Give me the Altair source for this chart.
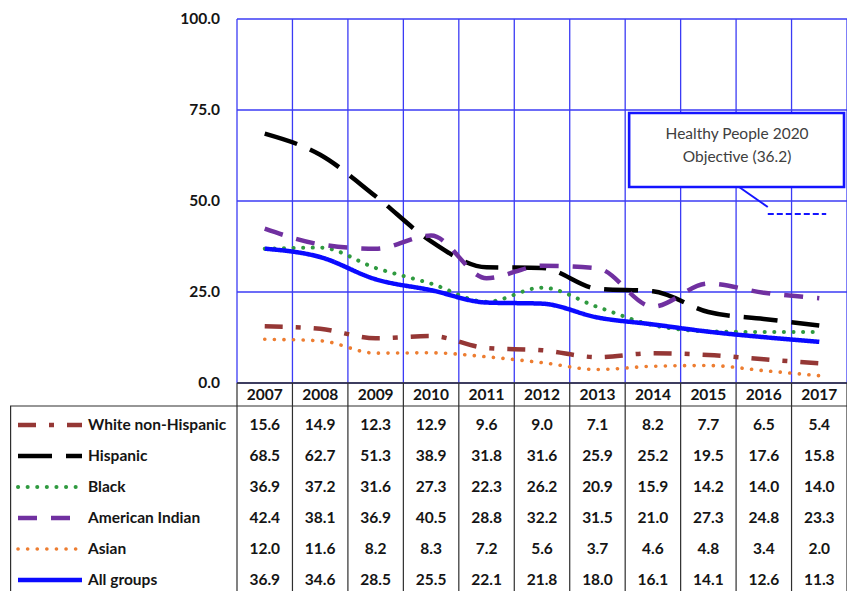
import altair as alt
import pandas as pd

# ---------------- data ----------------
years = list(range(2007, 2018))
series_names = ["White non-Hispanic", "Hispanic", "Black", "American Indian", "Asian", "All groups"]
white_non_hispanic = [15.6, 14.9, 12.3, 12.9, 9.6, 9.0, 7.1, 8.2, 7.7, 6.5, 5.4]
hispanic = [68.5, 62.7, 51.3, 38.9, 31.8, 31.6, 25.9, 25.2, 19.5, 17.6, 15.8]
black = [36.9, 37.2, 31.6, 27.3, 22.3, 26.2, 20.9, 15.9, 14.2, 14.0, 14.0]
american_indian = [42.4, 38.1, 36.9, 40.5, 28.8, 32.2, 31.5, 21.0, 27.3, 24.8, 23.3]
asian = [12.0, 11.6, 8.2, 8.3, 7.2, 5.6, 3.7, 4.6, 4.8, 3.4, 2.0]
all_groups = [36.9, 34.6, 28.5, 25.5, 22.1, 21.8, 18.0, 16.1, 14.1, 12.6, 11.3]
y_ticks = [0, 25, 50, 75, 100]
objective_lines = ["Healthy People 2020", "Objective (36.2)"]

series_values = [white_non_hispanic, hispanic, black, american_indian, asian, all_groups]

# ---------------- styles ----------------
colors = ["#953735", "#000000", "#2f9a3f", "#7030a0", "#ed7d31", "#0a0aff"]
dashes = [[18, 13, 5, 13], [34, 14], [0.1, 9.5], [19, 14], [0.1, 9.5], [1, 0]]
widths = [4.5, 4.5, 4.0, 4.5, 3.6, 4.5]
caps = ["butt", "butt", "round", "butt", "round", "butt"]
GRID = "#3b3bf5"
TABLE = "#2e2e2e"
FONT = "Lato"
TXT = "#151515"
FS = 15.5

# ---------------- geometry ----------------
LEFT_PX, TOP_PX = 10, 19          # page position of the chart origin
PLOT_LEFT, PLOT_RIGHT = 237, 847  # page x of the plot area's left / right edges
W = PLOT_RIGHT - LEFT_PX
H = 572
PX_PER_YEAR = (PLOT_RIGHT - PLOT_LEFT) / len(years)
PX_PER_UNIT = 3.64
X_MAX = years[-1] + 0.5
X_MIN = years[0] - 0.5 - (PLOT_LEFT - LEFT_PX) / PX_PER_YEAR
Y_MAX = 100.0
Y_MIN = Y_MAX - H / PX_PER_UNIT


def col_x(px):
    """page x (legend column) -> data units"""
    return X_MIN + (px - LEFT_PX) / PX_PER_YEAR


def plot_x(ref_px):
    return years[0] - 0.5 + (ref_px - 237) / 56.0


def yv(py):
    return Y_MAX - (py - TOP_PX) / PX_PER_UNIT


xs = alt.Scale(domain=[X_MIN, X_MAX], nice=False, zero=False)
ys = alt.Scale(domain=[Y_MIN, Y_MAX], nice=False, zero=False)


def X(f="x"):
    return alt.X(f"{f}:Q", scale=xs, axis=None)


def Y(f="y"):
    return alt.Y(f"{f}:Q", scale=ys, axis=None)


edges = [y - 0.5 for y in years] + [years[-1] + 0.5]

# ---------------- plot grid + y tick labels ----------------
hgrid = pd.DataFrame({"x": edges[0], "x2": edges[-1], "y": y_ticks})
vgrid = pd.DataFrame({"x": edges, "y": 0, "y2": 100})

grid_h = alt.Chart(hgrid).mark_rule(color=GRID, strokeWidth=1.3).encode(x=X(), x2="x2", y=Y())
grid_v = alt.Chart(vgrid).mark_rule(color=GRID, strokeWidth=1.3).encode(x=X(), y=Y(), y2="y2")

ytick_df = pd.DataFrame({"x": col_x(220), "y": y_ticks})
ytick_text = alt.Chart(ytick_df).mark_text(font=FONT, fontWeight="bold", fontSize=FS, color=TXT,
                                           align="right", baseline="middle").encode(
    x=X(), y=Y(), text=alt.Text("y:Q", format=".1f"))

# ---------------- table lines ----------------
header_y = yv(395)
header_bottom = yv(406)
row_y = [yv(425 + 31 * i) for i in range(len(series_names))]

t_vert = pd.DataFrame({"x": edges, "y": 0, "y2": Y_MIN})
t_top = pd.DataFrame({"x": [edges[0]], "x2": [edges[-1]], "y": [0]})
t_mid = pd.DataFrame({"x": [X_MIN], "x2": [edges[-1]], "y": [header_bottom]})
t_left = pd.DataFrame({"x": [col_x(10.6)], "y": [header_bottom], "y2": [Y_MIN]})

table_v = alt.Chart(t_vert).mark_rule(color=TABLE, strokeWidth=1.2).encode(x=X(), y=Y(), y2="y2")
table_top = alt.Chart(t_top).mark_rule(color=TABLE, strokeWidth=1.4).encode(x=X(), x2="x2", y=Y())
table_mid = alt.Chart(t_mid).mark_rule(color=TABLE, strokeWidth=1.2).encode(x=X(), x2="x2", y=Y())
table_left = alt.Chart(t_left).mark_rule(color=TABLE, strokeWidth=1.2).encode(x=X(), y=Y(), y2="y2")

# ---------------- series lines + legend samples ----------------
series_layers = []
sample_layers = []
for i, name in enumerate(series_names):
    df = pd.DataFrame({"x": years, "y": series_values[i], "series": name})
    series_layers.append(
        alt.Chart(df).mark_line(interpolate="monotone", color=colors[i], strokeWidth=widths[i],
                                strokeDash=dashes[i], strokeCap=caps[i]).encode(x=X(), y=Y())
    )
    sdf = pd.DataFrame({"x": [col_x(18), col_x(82)], "y": [row_y[i], row_y[i]], "series": name})
    sample_layers.append(
        alt.Chart(sdf).mark_line(color=colors[i], strokeWidth=widths[i],
                                 strokeDash=dashes[i], strokeCap=caps[i]).encode(x=X(), y=Y())
    )

# ---------------- table text ----------------
header_df = pd.DataFrame({"x": years, "y": header_y, "label": [str(y) for y in years]})
header_text = alt.Chart(header_df).mark_text(font=FONT, fontWeight="bold", fontSize=FS,
                                             color=TXT, baseline="middle").encode(
    x=X(), y=Y(), text="label:N")

legend_df = pd.DataFrame({"x": col_x(88), "y": row_y, "label": series_names})
legend_text = alt.Chart(legend_df).mark_text(font=FONT, fontWeight="bold", fontSize=FS,
                                             color=TXT, align="left", baseline="middle").encode(
    x=X(), y=Y(), text="label:N")

rows = []
for i, name in enumerate(series_names):
    for yr, v in zip(years, series_values[i]):
        rows.append({"x": yr, "y": row_y[i], "value": v, "series": name})
values_df = pd.DataFrame(rows)
values_text = alt.Chart(values_df).mark_text(font=FONT, fontWeight="bold", fontSize=FS,
                                             color=TXT, baseline="middle").encode(
    x=X(), y=Y(), text=alt.Text("value:Q", format=".1f"))

# ---------------- annotation ----------------
box_df = pd.DataFrame({"x": [plot_x(633)], "x2": [plot_x(850)], "y": [yv(113)], "y2": [yv(187)]})
box = alt.Chart(box_df).mark_rect(fill="white", stroke="#1414ff", strokeWidth=2.6).encode(
    x=X(), x2="x2", y=Y(), y2="y2")
ann_df = pd.DataFrame({"x": plot_x(742), "y": [yv(134), yv(157)], "label": objective_lines})
ann_text = alt.Chart(ann_df).mark_text(font=FONT, fontSize=15.5, color="#404040",
                                       baseline="middle").encode(x=X(), y=Y(), text="label:N")
conn_df = pd.DataFrame({"x": [plot_x(744)], "x2": [plot_x(773)], "y": [yv(187)], "y2": [yv(207)]})
connector = alt.Chart(conn_df).mark_rule(color="#1414ff", strokeWidth=2).encode(
    x=X(), x2="x2", y=Y(), y2="y2")
obj_df = pd.DataFrame({"x": [plot_x(773)], "x2": [plot_x(832)], "y": [yv(214)]})
objective = alt.Chart(obj_df).mark_rule(color="#1414ff", strokeWidth=2, strokeDash=[6, 3]).encode(
    x=X(), x2="x2", y=Y())

chart = alt.layer(
    grid_h, grid_v, table_v, table_top, table_mid, table_left,
    *series_layers, *sample_layers,
    ytick_text, header_text, legend_text, values_text,
    box, ann_text, connector, objective,
).properties(
    width=W, height=H,
    padding={"left": LEFT_PX - 8, "top": TOP_PX - 8, "right": 0, "bottom": 0},
    autosize=alt.AutoSizeParams(type="none"),
    background="white",
).configure_view(stroke=None)

chart.save("out.html", embed_options={"renderer": "svg", "actions": False})
